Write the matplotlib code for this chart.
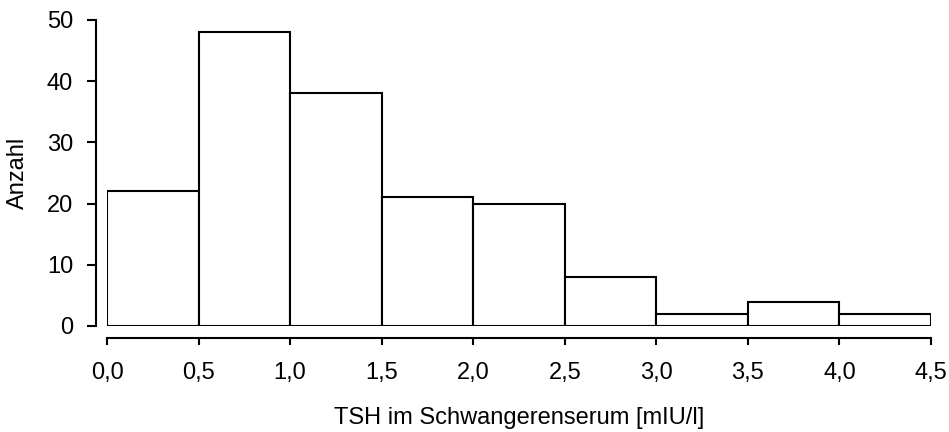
import matplotlib
matplotlib.use("Agg")
from matplotlib import pyplot as plt

# histogram of TSH values, bin width 0.5
bin_edges = [0.0, 0.5, 1.0, 1.5, 2.0, 2.5, 3.0, 3.5, 4.0, 4.5]
counts = [22, 48, 38, 21, 20, 8, 2, 4, 2]
x_ticks = [0.0, 0.5, 1.0, 1.5, 2.0, 2.5, 3.0, 3.5, 4.0, 4.5]
x_tick_labels = ["0,0", "0,5", "1,0", "1,5", "2,0", "2,5", "3,0", "3,5", "4,0", "4,5"]
y_ticks = [0, 10, 20, 30, 40, 50]

plt.rcParams['font.family'] = ['Liberation Sans', 'DejaVu Sans']

fig = plt.figure(figsize=(9.49, 4.32), dpi=100)
ax = fig.add_axes([107 / 949, 1 - 326 / 432, 824 / 949, 306 / 432])

widths = [bin_edges[i + 1] - bin_edges[i] for i in range(len(counts))]
ax.bar(bin_edges[:-1], counts, width=widths, align='edge',
       facecolor='white', edgecolor='black', linewidth=1.5)

ax.set_xlim(0, 4.5)
ax.set_ylim(0, 50)

ax.spines['top'].set_visible(False)
ax.spines['right'].set_visible(False)
ax.spines['left'].set_position(('outward', 11 * 0.72))
ax.spines['bottom'].set_position(('outward', 12 * 0.72))
ax.spines['left'].set_linewidth(1.5)
ax.spines['bottom'].set_linewidth(1.5)

ax.set_xticks(x_ticks)
ax.set_xticklabels(x_tick_labels)
ax.set_yticks(y_ticks)

ax.tick_params(axis='x', length=5, width=1.5, pad=12, labelsize=17)
ax.tick_params(axis='y', length=6.5, width=1.5, pad=10, labelsize=17)

ax.set_xlabel('TSH im Schwangerenserum [mIU/l]', fontsize=17, labelpad=17)
ax.set_ylabel('Anzahl', fontsize=17, labelpad=13)

fig.savefig('out.png', dpi=100)
